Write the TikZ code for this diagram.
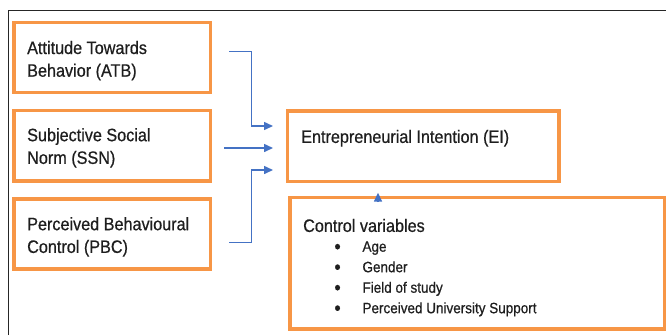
\documentclass[tikz,border=0pt]{standalone}
\usepackage{fontspec}
\setmainfont{Liberation Sans}[FakeStretch=0.9,FakeBold=0.6]
\usetikzlibrary{arrows.meta}
\definecolor{boxorange}{HTML}{F79646}
\definecolor{arrowblue}{HTML}{4472C4}
\definecolor{txtgray}{HTML}{1E1E1E}
\newcommand{\bigbul}{\makebox[28.1pt][l]{\raisebox{-1.6pt}{\fontsize{20}{20}\selectfont\textbullet}}}
\begin{document}
\begin{tikzpicture}[x=1pt,y=-1pt,
  boxnode/.style={draw=boxorange,line width=3.2pt,inner sep=0pt,rectangle},
  lbl/.style={anchor=base west,inner sep=0pt,text=txtgray,font=\fontsize{18}{22.7}\selectfont},
  itm/.style={anchor=base west,inner sep=0pt,text=txtgray,font=\fontsize{15}{20.5}\selectfont},
  conn/.style={draw=arrowblue,line width=1.5pt,-{Triangle[length=9pt,width=8pt]}},
  frameline/.style={draw=black!85,line width=1pt}]
\useasboundingbox (0,0) rectangle (666,335);
\draw[frameline] (8,335) -- (8,10.5) -- (666,10.5);

% boxes
\node[boxnode,minimum width=196.6pt,minimum height=70.3pt] (atb) at (112.3,57.5) {};
\node[boxnode,minimum width=196.6pt,minimum height=70.3pt] (ssn) at (112.3,145.8) {};
\node[boxnode,minimum width=196.6pt,minimum height=70pt] (pbc) at (112.3,234) {};
\node[boxnode,minimum width=271.6pt,minimum height=70.6pt] (ei) at (423.2,146.3) {};
\node[boxnode,minimum width=375pt,minimum height=131.3pt] (ctrl) at (477.5,263.3) {};

% texts
\node[lbl] (atbtxt) at (27,54) {\begin{tabular}[t]{@{}l@{}}Attitude Towards\\Behavior (ATB)\end{tabular}};
\node[lbl] (ssntxt) at (27,141.2) {\begin{tabular}[t]{@{}l@{}}Subjective Social\\Norm (SSN)\end{tabular}};
\node[lbl] (pbctxt) at (27,230.2) {\begin{tabular}[t]{@{}l@{}}Perceived Behavioural\\Control (PBC)\end{tabular}};
\node[lbl] (eitxt) at (301,142.9) {Entrepreneurial Intention (EI)};
\node[lbl] (ctrltxt) at (303,231.9) {Control variables};
\node[itm] (ctrlitems) at (334.2,251.7) {\begin{tabular}[t]{@{}l@{}l@{}}
\bigbul & Age\\
\bigbul & Gender\\
\bigbul & Field of study\\
\bigbul & Perceived University Support
\end{tabular}};

% connector end points
\coordinate (atbout) at (229,51.7);
\coordinate (ssnout) at (224,148);
\coordinate (pbcout) at (229,242.7);
\coordinate (eiin1) at (273,126);
\coordinate (eiin2) at (273,148);
\coordinate (eiin3) at (273,170);
\coordinate (ctrlout) at (378,202);
\coordinate (ctrltip) at (378,192.7);

\draw[conn] (atbout) -- ++(22.7,0) |- (eiin1);
\draw[conn] (ssnout) -- (eiin2);
\draw[conn] (pbcout) -- ++(22.7,0) |- (eiin3);
\draw[conn] (ctrlout) -- (ctrltip);
\end{tikzpicture}
\end{document}
